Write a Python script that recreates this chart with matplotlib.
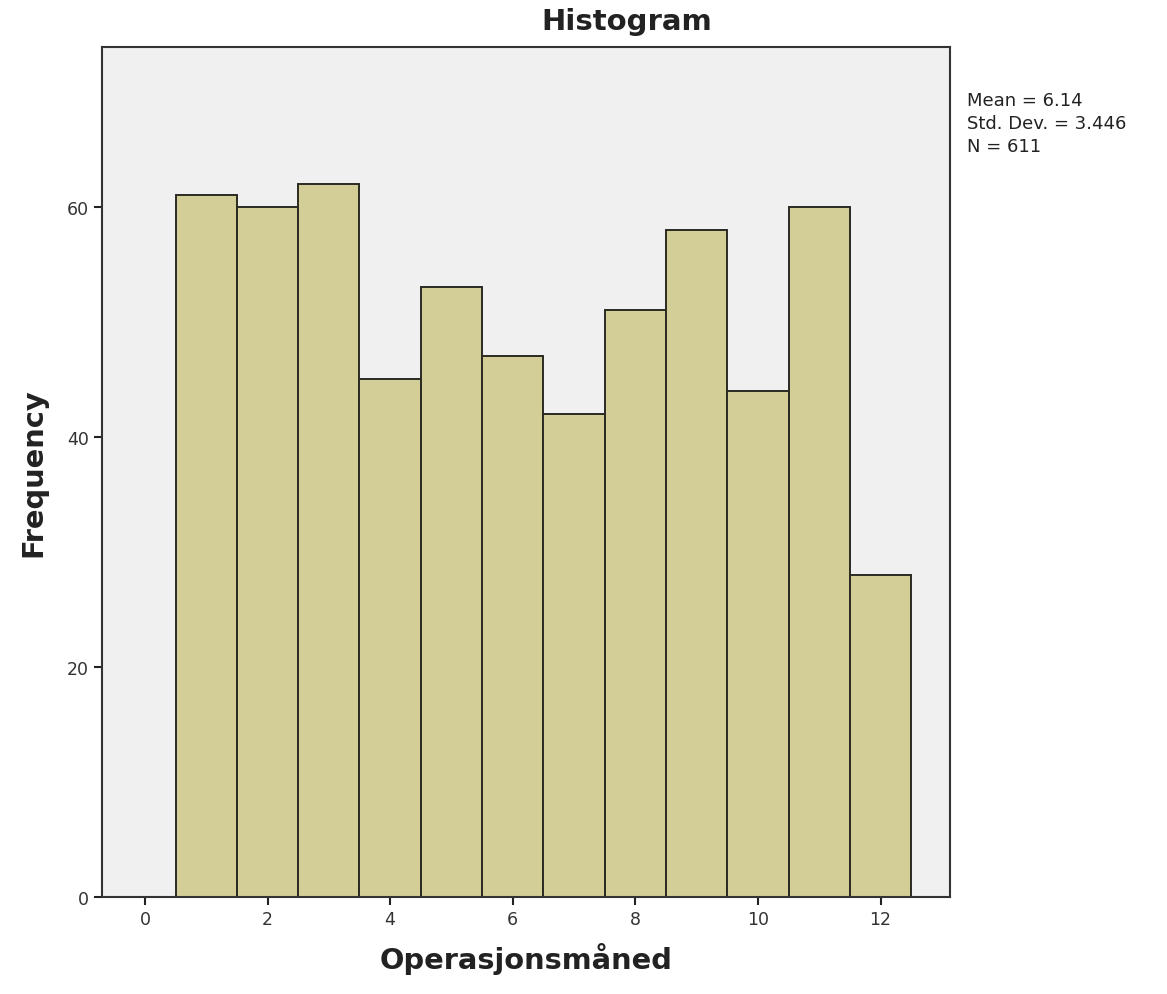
import numpy as np
import matplotlib.pyplot as plt

# monthly counts
months = [1, 2, 3, 4, 5, 6, 7, 8, 9, 10, 11, 12]
counts = [61, 60, 62, 45, 53, 47, 42, 51, 58, 44, 60, 28]
xticks = [0, 2, 4, 6, 8, 10, 12]
yticks = [0, 20, 40, 60]
stats_lines = ["Mean = 6.14", "Std. Dev. = 3.446", "N = 611"]

fig = plt.figure(figsize=(11.67, 9.95), dpi=100)
ax = fig.add_axes([0.0874, 0.0975, 0.727, 0.8543])
ax.set_facecolor('#f0f0f0')

ax.bar(months, counts, width=1.0, color='#d3ce97',
       edgecolor='#2a2a22', linewidth=1.4, zorder=2)

ax.set_xlim(-0.7, 13.14)
ax.set_ylim(0, 73.9)
ax.set_xticks(xticks)
ax.set_yticks(yticks)
ax.tick_params(direction='out', length=6, width=1.5, colors='#222222',
               labelsize=12.5, labelcolor='#333333')

for s in ax.spines.values():
    s.set_color('#333333')
    s.set_linewidth(1.5)

ax.set_xlabel('Operasjonsmåned', fontsize=20.8, fontweight='bold',
              color='#222222', labelpad=10)
ax.set_ylabel('Frequency', fontsize=20.8, fontweight='bold',
              color='#222222', labelpad=14)

fig.text(0.537, 0.978, 'Histogram', fontsize=21, fontweight='bold',
         color='#222222', ha='center', va='center')

fig.text(0.829, 0.908, "\n".join(stats_lines), fontsize=13,
         color='#222222', ha='left', va='top', linespacing=1.36)

fig.savefig('out.png', dpi=100)
